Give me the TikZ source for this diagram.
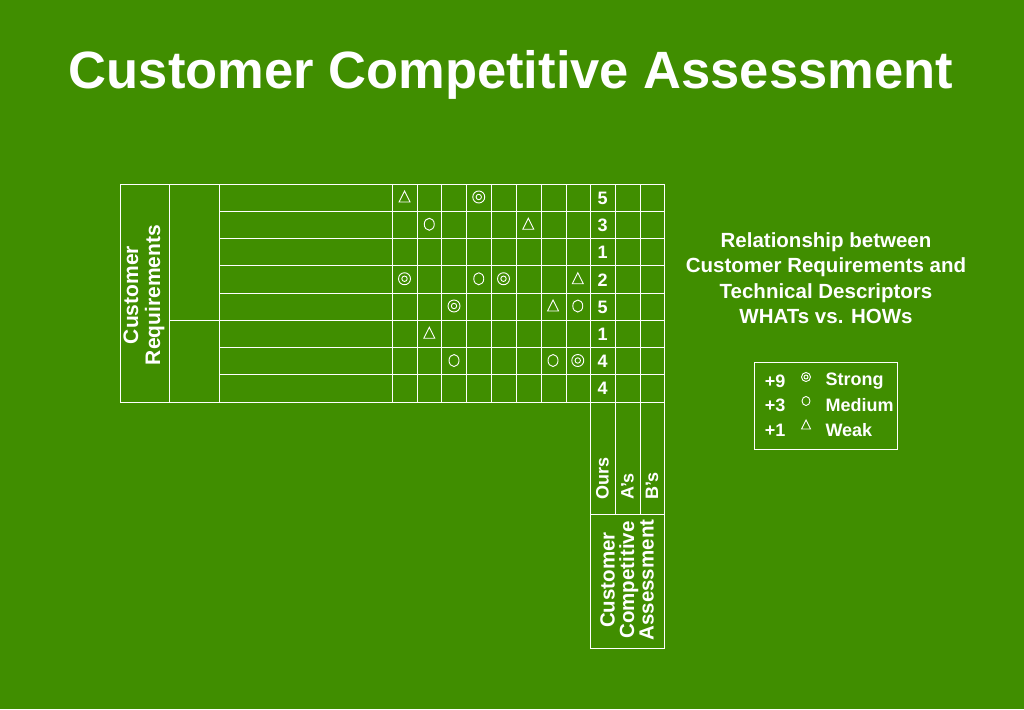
\documentclass[tikz,border=0pt]{standalone}
\usepackage{fontspec}
\setmainfont{Liberation Sans}
\definecolor{bg}{RGB}{64,142,0}
\begin{document}
\begin{tikzpicture}[x=1pt,y=-1pt,line width=1pt,
  ln/.style={draw=white},
  txt/.style={text=white,font=\bfseries\fontsize{18}{20}\selectfont,inner sep=0pt},
  sym/.style={draw=white,line width=0.9pt}]
\fill[bg] (0,0) rectangle (1024,709);
\useasboundingbox (0,0) rectangle (1024,709);
\node[txt,font=\bfseries\fontsize{52.5}{58}\selectfont] (title) at (511,75) {Customer Competitive Assessment};
% grid
\def\cols{392,417,441,466,491,516,541,566,590,615,640,664}
\draw[ln] (120,184) rectangle (664,402);
\draw[ln] (169,184) -- (169,402);
\draw[ln] (219,184) -- (219,402);
\foreach \x in \cols {\draw[ln] (\x,184) -- (\x,402);}
\foreach \i in {1,...,7} {\draw[ln] (219,184+27.25*\i) -- (664,184+27.25*\i);}
\draw[ln] (169,320.25) -- (219,320.25);
% lower part
\draw[ln] (590,402) -- (590,648) -- (664,648) -- (664,402);
\draw[ln] (615,402) -- (615,514);
\draw[ln] (640,402) -- (640,514);
\draw[ln] (590,514) -- (664,514);
% numbers
\foreach \n [count=\i from 0] in {5,3,1,2,5,1,4,4}
  \node[txt] (n\i) at (602.5,198+27.25*\i) {\n};
% symbols
\newcommand{\tri}[2]{\draw[sym] (404.5+24.75*#1-5.5,197.5+27.25*#2+4.5) -- ++(11,0) -- ++(-5.5,-11) -- cycle;}
\newcommand{\cir}[2]{\draw[sym] (404.5+24.75*#1,197+27.25*#2) ellipse (5 and 6);}
\newcommand{\dbl}[2]{\draw[sym] (404.5+24.75*#1,197+27.25*#2) circle (6) circle (2.7);}
\tri{0}{0}\dbl{3}{0}
\cir{1}{1}\tri{5}{1}
\dbl{0}{3}\cir{3}{3}\dbl{4}{3}\tri{7}{3}
\dbl{2}{4}\tri{6}{4}\cir{7}{4}
\tri{1}{5}
\cir{2}{6}\cir{6}{6}\dbl{7}{6}
% rotated labels
\node[txt,rotate=90,align=center,font=\bfseries\fontsize{21}{22}\selectfont] (cr) at (144,295) {Customer\\Requirements};
\node[txt,rotate=90,anchor=west] (ours) at (602.5,500) {Ours};
\node[txt,rotate=90,anchor=west] (as) at (627.5,500) {A's};
\node[txt,rotate=90,anchor=west] (bs) at (652,500) {B's};
\node[txt,rotate=90,align=center,font=\bfseries\fontsize{20.5}{19.5}\selectfont] (cca) at (627,580) {Customer\\Competitive\\Assessment};
% right text
\node[txt,align=center,font=\bfseries\fontsize{20.5}{25.5}\selectfont] (rel) at (826,278) {Relationship between\\Customer Requirements and\\Technical Descriptors\\WHATs vs. HOWs};
% legend
\draw[ln] (754,362) rectangle (897,449);
\foreach \v/\w [count=\i from 0] in {+9/Strong,+3/Medium,+1/Weak}{
  \node[txt] (v\i) at (775,381+24.5*\i) {\v};
  \node[txt,anchor=west] (w\i) at (825,381+24.5*\i) {\w};
}
\draw[sym] (806,377) circle (4.5) circle (2);
\draw[sym] (806,401) ellipse (4 and 4.5);
\draw[sym] (801.5,429) -- ++(9,0) -- ++(-4.5,-9) -- cycle;
\end{tikzpicture}
\end{document}
